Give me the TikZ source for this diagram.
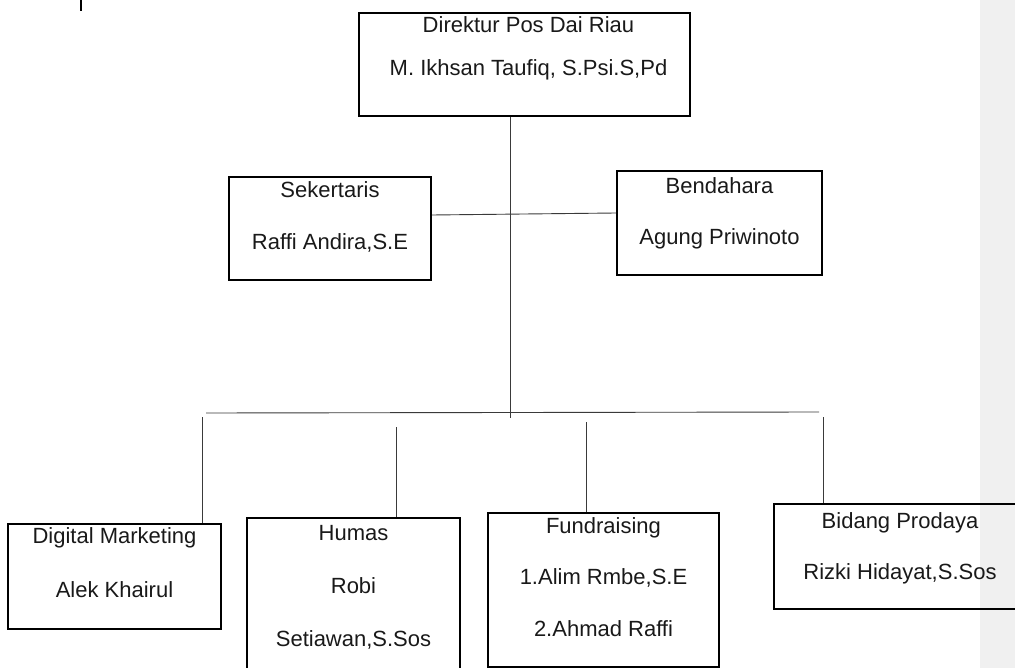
\documentclass[tikz,border=0pt]{standalone}
\usepackage{fontspec}
\setmainfont{Liberation Sans}
\usetikzlibrary{positioning}
\definecolor{sidegray}{HTML}{F0F0F0}
\definecolor{linkgray}{HTML}{3A3A3A}
\begin{document}
\begin{tikzpicture} [x=1pt,y=-1pt,
  box/.style={draw,line width=2pt,anchor=north west,inner sep=0pt},
  txt/.style={align=center,inner sep=0pt,text=black!90,font=\fontsize{22}{52}\selectfont},
  link/.style={draw=linkgray,line width=0.9pt}]
\useasboundingbox (0,0) rectangle (1015,668) ;
\fill[sidegray] (980,0) rectangle (1015,668) ;
\draw[line width=2.4pt] (81,0) -- (81,11) ;
\node[box,minimum width=331pt,minimum height=103pt] (dir) at (358,12) {} ;
\node[box,minimum width=202pt,minimum height=103pt] (sek) at (228,176) {} ;
\node[box,minimum width=205pt,minimum height=104pt] (ben) at (616,170) {} ;
\node[box,minimum width=213pt,minimum height=105pt] (dm) at (7,523) {} ;
\node[box,minimum width=213pt,minimum height=170pt] (humas) at (246,517) {} ;
\node[box,minimum width=231pt,minimum height=154pt] (fund) at (487,512) {} ;
\node[box,minimum width=252pt,minimum height=105pt] (bid) at (773,503) {} ;
\node[txt,font=\fontsize{22}{43}\selectfont,below=4pt of dir.north,xshift=4pt] (dirtxt) {Direktur Pos Dai Riau\\M. Ikhsan Taufiq, S.Psi.S,Pd} ;
\node[txt,below=5pt of sek.north] (sektxt) {Sekertaris\\Raffi Andira,S.E} ;
\node[txt,font=\fontsize{22}{51}\selectfont,below=7pt of ben.north] (bentxt) {Bendahara\\Agung Priwinoto} ;
\node[txt,font=\fontsize{22}{54}\selectfont,below=4pt of dm.north] (dmtxt) {Digital Marketing\\Alek Khairul} ;
\node[txt,font=\fontsize{22}{53}\selectfont,below=8pt of humas.north] (humastxt) {Humas\\Robi\\Setiawan,S.Sos} ;
\node[txt,font=\fontsize{22}{51.5}\selectfont,below=5pt of fund.north] (fundtxt) {Fundraising\\1.Alim Rmbe,S.E\\2.Ahmad Raffi} ;
\node[txt,font=\fontsize{22}{51}\selectfont,below=9pt of bid.north] (bidtxt) {Bidang Prodaya\\Rizki Hidayat,S.Sos} ;
\coordinate (hub) at (510,418) ;
\coordinate (busl) at (206,413) ;
\coordinate (busr) at (819,412) ;
\coordinate (t1) at (202,417) ;
\coordinate (t2) at (396,427) ;
\coordinate (t3) at (586,422) ;
\coordinate (t4) at (823,417) ;
\draw[link] (dir.south -| hub) -- (hub) ;
\draw[link] ([yshift=13.5pt]sek.east) -- ([yshift=10pt]ben.west) ;
\draw[link] (busl) -- (busr) ;
\draw[link] (t1) -- (t1 |- dm.north) ;
\draw[link] (t2) -- (t2 |- humas.north) ;
\draw[link] (t3) -- (t3 |- fund.north) ;
\draw[link] (t4) -- (t4 |- bid.north) ;
\end{tikzpicture}
\end{document}
